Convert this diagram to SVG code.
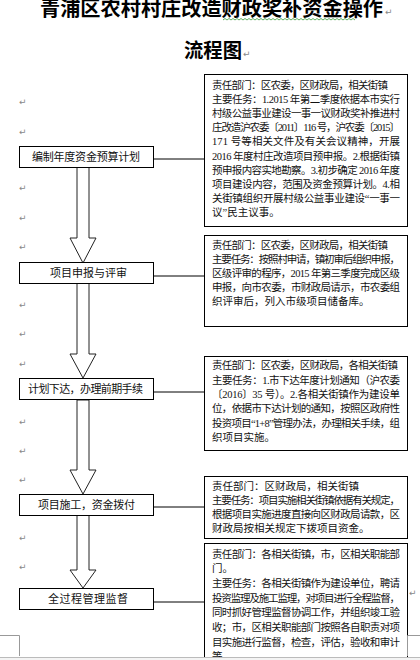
<svg xmlns="http://www.w3.org/2000/svg" width="420" height="660" viewBox="0 0 420 660">
<style>
.title{font-family:"Noto Sans CJK SC",sans-serif;font-size:20px;font-weight:bold;fill:#000}
.box{fill:#fff;stroke:#000;stroke-width:1}
.lt{font-family:"Liberation Serif","Noto Sans CJK SC",sans-serif;font-size:11px;fill:#111}
.rt{font-family:"Liberation Serif","Noto Sans CJK SC",sans-serif;font-size:10.5px;fill:#111}
.pm{font-family:"DejaVu Sans",sans-serif;font-size:9px;fill:#888}
.ln{stroke:#000;stroke-width:1;fill:none}
.arr{fill:#fff;stroke:#222;stroke-width:1}
.crop{stroke:#999;stroke-width:1;fill:none}
</style>
<rect x="0" y="0" width="420" height="660" fill="#fff"/>
<g id="title">
<text class="title" x="40" y="15.5" textLength="343" lengthAdjust="spacingAndGlyphs">青浦区农村村庄改造财政奖补资金操作</text>
<path d="M223 20 l2 -1.5 l2 1.5 l2 -1.5 l2 1.5 l2 -1.5 l2 1.5 l2 -1.5 l2 1.5 l2 -1.5 l2 1.5 l2 -1.5 l2 1.5 l2 -1.5 l2 1.5 l2 -1.5 l2 1.5 l2 -1.5 l2 1.5 l2 -1.5 l2 1.5 l2 -1.5 l2 1.5 l2 -1.5 l2 1.5 l2 -1.5 l2 1.5 l2 -1.5 l2 1.5 l2 -1.5 l2 1.5 l2 -1.5 l2 1.5 l2 -1.5 l2 1.5 l2 -1.5 l2 1.5 l2 -1.5 l2 1.5 l2 -1.5 l2 1.5 l2 -1.5 l2 1.5 l2 -1.5 l2 1.5 l2 -1.5 l2 1.5 l2 -1.5 l2 1.5 l2 -1.5 l2 1.5 l2 -1.5 l2 1.5 l2 -1.5 l2 1.5 l2 -1.5 l2 1.5 l2 -1.5 l2 1.5 l2 -1.5 l2 1.5 l2 -1.5 l2 1.5 l2 -1.5 l2 1.5 l2 -1.5 l2 1.5" stroke="#3a9a3a" stroke-width="0.8" fill="none"/>
<text class="pm" x="385" y="15">↵</text>
<text class="title" x="184" y="58" textLength="58" lengthAdjust="spacingAndGlyphs">流程图</text>
<text class="pm" x="243" y="57">↵</text>
</g>
<g id="margin-marks">
<text class="pm" x="19" y="105">↵</text>
<text class="pm" x="19" y="135">↵</text>
<text class="pm" x="19" y="191">↵</text>
<text class="pm" x="19" y="221">↵</text>
<text class="pm" x="19" y="250">↵</text>
<text class="pm" x="19" y="308">↵</text>
<text class="pm" x="19" y="337">↵</text>
<text class="pm" x="19" y="367">↵</text>
<text class="pm" x="19" y="425">↵</text>
<text class="pm" x="19" y="454">↵</text>
<text class="pm" x="19" y="483">↵</text>
<text class="pm" x="19" y="541">↵</text>
<text class="pm" x="19" y="570">↵</text>
<text class="pm" x="409" y="596">↵</text>
</g>
<g id="connectors">
<line class="ln" x1="153" y1="159" x2="204" y2="159"/>
<line class="ln" x1="153" y1="276" x2="204" y2="276"/>
<line class="ln" x1="153" y1="392" x2="204" y2="392"/>
<line class="ln" x1="153" y1="507" x2="204" y2="507"/>
<line class="ln" x1="153" y1="602" x2="204" y2="602"/>
<polygon class="arr" points="77,167 89,167 89,238 96,238 83,263 70,238 77,238"/>
<polygon class="arr" points="77,283 89,283 89,354 96,354 83,378 70,354 77,354"/>
<polygon class="arr" points="77,400 89,400 89,470 96,470 83,494 70,470 77,470"/>
<polygon class="arr" points="77,515 89,515 89,570 96,570 83,588 70,570 77,570"/>
</g>
<g id="step1">
<rect class="box" x="19.5" y="146.5" width="134" height="21"/>
<text class="lt" x="32" y="161" textLength="108" lengthAdjust="spacing">编制年度资金预算计划</text>
</g>
<g id="step2">
<rect class="box" x="19.5" y="262.5" width="134" height="21"/>
<text class="lt" x="50" y="277" textLength="77" lengthAdjust="spacing">项目申报与评审</text>
</g>
<g id="step3">
<rect class="box" x="19.5" y="378.5" width="134" height="21"/>
<text class="lt" x="28" y="393" textLength="115" lengthAdjust="spacing">计划下达，办理前期手续</text>
</g>
<g id="step4">
<rect class="box" x="19.5" y="494.5" width="134" height="21"/>
<text class="lt" x="38" y="509" textLength="97" lengthAdjust="spacing">项目施工，资金拨付</text>
</g>
<g id="step5">
<rect class="box" x="19.5" y="588.5" width="134" height="21"/>
<text class="lt" x="48" y="603" textLength="80" lengthAdjust="spacing">全过程管理监督</text>
</g>
<g id="desc1">
<rect class="box" x="204.5" y="74.5" width="203" height="152"/>
<text class="rt" x="212" y="89" textLength="176" lengthAdjust="spacing">责任部门：区农委，区财政局，相关街镇</text>
<text class="rt" x="212" y="103" textLength="188" lengthAdjust="spacing">主要任务：1.2015 年第二季度依据本市实行</text>
<text class="rt" x="212" y="117" textLength="188" lengthAdjust="spacing">村级公益事业建设一事一议财政奖补推进村</text>
<text class="rt" x="212" y="131" textLength="188" lengthAdjust="spacing">庄改造沪农委〔2011〕116 号，沪农委〔2015〕</text>
<text class="rt" x="212" y="145" textLength="188" lengthAdjust="spacing">171 号等相关文件及有关会议精神，开展</text>
<text class="rt" x="212" y="159.5" textLength="188" lengthAdjust="spacing">2016 年度村庄改造项目预申报。2.根据街镇</text>
<text class="rt" x="212" y="173.5" textLength="188" lengthAdjust="spacing">预申报内容实地勘察。3.初步确定 2016 年度</text>
<text class="rt" x="212" y="187.5" textLength="188" lengthAdjust="spacing">项目建设内容，范围及资金预算计划。4.相</text>
<text class="rt" x="212" y="202" textLength="188" lengthAdjust="spacing">关街镇组织开展村级公益事业建设“一事一</text>
<text class="rt" x="212" y="216">议”民主议事。</text>
</g>
<g id="desc2">
<rect class="box" x="204.5" y="235.5" width="203" height="91"/>
<text class="rt" x="212" y="249" textLength="176" lengthAdjust="spacing">责任部门：区农委，区财政局，相关街镇</text>
<text class="rt" x="212" y="263" textLength="188" lengthAdjust="spacing">主要任务：按照村申请，镇初审后组织申报，</text>
<text class="rt" x="212" y="277" textLength="188" lengthAdjust="spacing">区级评审的程序，2015 年第三季度完成区级</text>
<text class="rt" x="212" y="291" textLength="188" lengthAdjust="spacing">申报，向市农委，市财政局请示，市农委组</text>
<text class="rt" x="212" y="305">织评审后，列入市级项目储备库。</text>
</g>
<g id="desc3">
<rect class="box" x="204.5" y="356.5" width="203" height="94"/>
<text class="rt" x="212" y="369" textLength="186" lengthAdjust="spacing">责任部门：区农委，区财政局，各相关街镇</text>
<text class="rt" x="212" y="383.5" textLength="188" lengthAdjust="spacing">主要任务：1.市下达年度计划通知（沪农委</text>
<text class="rt" x="212" y="398" textLength="188" lengthAdjust="spacing">〔2016〕35 号）。2.各相关街镇作为建设单</text>
<text class="rt" x="212" y="412" textLength="188" lengthAdjust="spacing">位，依据市下达计划的通知，按照区政府性</text>
<text class="rt" x="212" y="426.5" textLength="188" lengthAdjust="spacing">投资项目“1+8”管理办法，办理相关手续，组</text>
<text class="rt" x="212" y="441">织项目实施。</text>
</g>
<g id="desc4">
<rect class="box" x="204.5" y="476.5" width="203" height="62"/>
<text class="rt" x="212" y="490">责任部门：区财政局，相关街镇</text>
<text class="rt" x="212" y="504" textLength="188" lengthAdjust="spacing">主要任务：项目实施相关街镇依据有关规定，</text>
<text class="rt" x="212" y="518" textLength="188" lengthAdjust="spacing">根据项目实施进度直接向区财政局请款，区</text>
<text class="rt" x="212" y="532">财政局按相关规定下拨项目资金。</text>
</g>
<g id="desc5">
<rect class="box" x="204.5" y="543.5" width="203" height="130"/>
<text class="rt" x="212" y="557.5" textLength="188" lengthAdjust="spacing">责任部门：各相关街镇，市，区相关职能部</text>
<text class="rt" x="212" y="572">门。</text>
<text class="rt" x="212" y="587" textLength="188" lengthAdjust="spacing">主要任务：各相关街镇作为建设单位，聘请</text>
<text class="rt" x="212" y="601.5" textLength="188" lengthAdjust="spacing">投资监理及施工监理，对项目进行全程监督，</text>
<text class="rt" x="212" y="616" textLength="188" lengthAdjust="spacing">同时抓好管理监督协调工作，并组织竣工验</text>
<text class="rt" x="212" y="631" textLength="188" lengthAdjust="spacing">收；市，区相关职能部门按照各自职责对项</text>
<text class="rt" x="212" y="645.5" textLength="188" lengthAdjust="spacing">目实施进行监督，检查，评估，验收和审计</text>
<text class="rt" x="212" y="660">等。</text>
</g>
<g id="page-edge">
<rect x="0" y="658" width="420" height="2" fill="#f4f4f4"/>
<line x1="0" y1="657.5" x2="420" y2="657.5" stroke="#bbb" stroke-width="1"/>
<polyline class="crop" points="0,635.5 19.5,635.5 19.5,656"/>
<polyline class="crop" points="420,635.5 407.5,635.5 407.5,656"/>
</g>
</svg>
